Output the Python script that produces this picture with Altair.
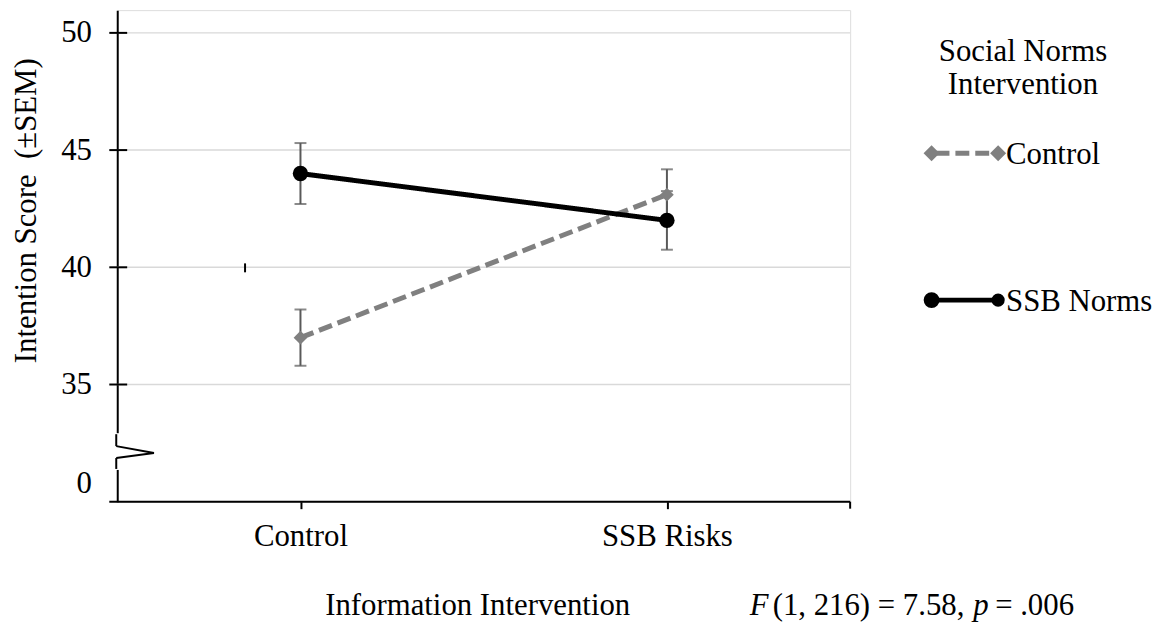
import altair as alt
import pandas as pd

# ---- data ----
info_levels = ["Control", "SSB Risks"]
norm_groups = ["Control", "SSB Norms"]
control_means = [37.0, 43.1]
control_sem = [1.2, 1.08]
ssb_means = [44.0, 42.0]
ssb_sem = [1.3, 1.25]
tick_values = [30.76, 35, 40, 45, 50]
tick_labels = ["0", "35", "40", "45", "50"]
grid_values = [35, 40, 45, 50]

FONT = "Liberation Serif"
FS = 31
GRAY = "#808080"
ERR = "#595959"
W, H = 738, 495

rows = []
for i, lvl in enumerate(info_levels):
    rows.append({"info": lvl, "group": "Control", "mean": control_means[i],
                 "lo": control_means[i] - control_sem[i], "hi": control_means[i] + control_sem[i]})
    rows.append({"info": lvl, "group": "SSB Norms", "mean": ssb_means[i],
                 "lo": ssb_means[i] - ssb_sem[i], "hi": ssb_means[i] + ssb_sem[i]})
df = pd.DataFrame(rows)
ticks_df = pd.DataFrame({"v": grid_values})
one = pd.DataFrame({"k": [0]})

label_expr = "datum.value < 31 ? '0' : datum.label"

yscale = alt.Scale(domain=[30, 50.97], nice=False, zero=False)
xscale = alt.Scale(type="point", domain=info_levels, padding=0.5)
yaxis = alt.Axis(values=tick_values, labelExpr=label_expr,
                 tickSize=0, grid=False, domainColor="black", domainWidth=2,
                 labelFont=FONT, labelFontSize=FS, labelColor="black", labelPadding=26,
                 title=None)
xaxis = alt.Axis(domain=False, tickSize=7, tickWidth=2, tickColor="black",
                 labelFont=FONT, labelFontSize=FS, labelColor="black", labelPadding=13,
                 labelAngle=0, grid=False, title=None)

X = alt.X("info:N", scale=xscale, axis=xaxis)
color = alt.Color("group:N", scale=alt.Scale(domain=norm_groups, range=[GRAY, "black"]), legend=None)

base = alt.Chart(df)

grid = alt.Chart(ticks_df).mark_rule(color="#d9d9d9", strokeWidth=1.5).encode(
    y=alt.Y("v:Q", scale=yscale, axis=yaxis), x=alt.value(0), x2=alt.value(W))

err = base.mark_rule(color=ERR, strokeWidth=2).encode(
    x=X, y=alt.Y("lo:Q", scale=yscale, axis=yaxis), y2="hi:Q")
cap_lo = base.mark_tick(color=ERR, thickness=2, size=12).encode(
    x=X, y=alt.Y("lo:Q", scale=yscale, axis=yaxis))
cap_hi = base.mark_tick(color=ERR, thickness=2, size=12).encode(
    x=X, y=alt.Y("hi:Q", scale=yscale, axis=yaxis))

lines = base.mark_line(strokeWidth=5).encode(
    x=X, y=alt.Y("mean:Q", scale=yscale, axis=yaxis), color=color,
    strokeDash=alt.StrokeDash("group:N", scale=alt.Scale(domain=norm_groups, range=[[14, 6], [1, 0]]), legend=None),
    detail="group:N")
pts = base.mark_point(filled=True, opacity=1).encode(
    x=X, y=alt.Y("mean:Q", scale=yscale, axis=yaxis), color=color,
    shape=alt.Shape("group:N", scale=alt.Scale(domain=norm_groups, range=["diamond", "circle"]), legend=None),
    size=alt.Size("group:N", scale=alt.Scale(domain=norm_groups, range=[190, 240]), legend=None))

ytick_marks = alt.Chart(ticks_df).mark_rule(color="black", strokeWidth=2).encode(
    y=alt.Y("v:Q", scale=yscale, axis=yaxis), x=alt.value(-8), x2=alt.value(10))

deco = []
def seg(x1, y1, x2, y2, color="black", w=2):
    return alt.Chart(one).mark_rule(color=color, strokeWidth=w).encode(
        x=alt.value(x1), y=alt.value(y1), x2=alt.value(x2), y2=alt.value(y2))

# x axis line and end tick
deco.append(seg(-8, H, W, H))
deco.append(seg(W, H, W, H + 7))
# axis break
deco.append(alt.Chart(one).mark_rect(color="white").encode(
    x=alt.value(-4), x2=alt.value(4), y=alt.value(426), y2=alt.value(463)))
deco.append(seg(-1, 427, -1, 439))
deco.append(seg(-1, 439, 37, 446))
deco.append(seg(37, 446, -1, 451))
deco.append(seg(-1, 451, -1, 462))
# stray mark
deco.append(seg(128.7, 255, 128.7, 264))

def txt(s, x, y, align="left", italic=False, angle=0, baseline="alphabetic"):
    kw = dict(font=FONT, fontSize=FS, color="black", align=align, baseline=baseline)
    if italic:
        kw["fontStyle"] = "italic"
    if angle:
        kw["angle"] = angle
    return alt.Chart(one).mark_text(**kw).encode(
        x=alt.value(x), y=alt.value(y), text=alt.value(s))

texts = [
    txt("Intention Score\u00a0 (\u00b1SEM)", -91, 202, align="center", angle=270, baseline="middle"),
    txt("Information Intervention", 363, 609, align="center"),
    txt("F", 637, 609, italic=True),
    txt("(1, 216) = 7.58,", 660, 609),
    txt("p", 862, 609, italic=True),
    txt("= .006", 884, 609),
    txt("Social Norms", 912, 51, align="center"),
    txt("Intervention", 912, 84, align="center"),
    txt("Control", 895, 155),
    txt("SSB Norms", 895, 303),
]

legend = [
    alt.Chart(one).mark_rule(color=GRAY, strokeWidth=5, strokeDash=[14, 6]).encode(
        x=alt.value(824), x2=alt.value(887), y=alt.value(144)),
    alt.Chart(one).mark_point(filled=True, opacity=1, shape="diamond", size=260, color=GRAY).encode(
        x=alt.value(820), y=alt.value(144)),
    alt.Chart(one).mark_point(filled=True, opacity=1, shape="diamond", size=260, color=GRAY).encode(
        x=alt.value(887), y=alt.value(144)),
    alt.Chart(one).mark_rule(color="black", strokeWidth=5).encode(
        x=alt.value(820), x2=alt.value(887), y=alt.value(292)),
    alt.Chart(one).mark_point(filled=True, opacity=1, shape="circle", size=254, color="black").encode(
        x=alt.value(820), y=alt.value(292)),
    alt.Chart(one).mark_point(filled=True, opacity=1, shape="circle", size=177, color="black").encode(
        x=alt.value(887), y=alt.value(292)),
]

chart = alt.layer(grid, err, cap_lo, cap_hi, lines, pts, ytick_marks, *deco, *legend, *texts).properties(
    width=W, height=H,
    padding={"left": 110, "top": 0, "right": 311, "bottom": 125},
    autosize=alt.AutoSizeParams(type="none"),
).configure_view(stroke=None).configure(background="white")

chart.save("out.html", embed_options={"renderer": "svg", "actions": False})
